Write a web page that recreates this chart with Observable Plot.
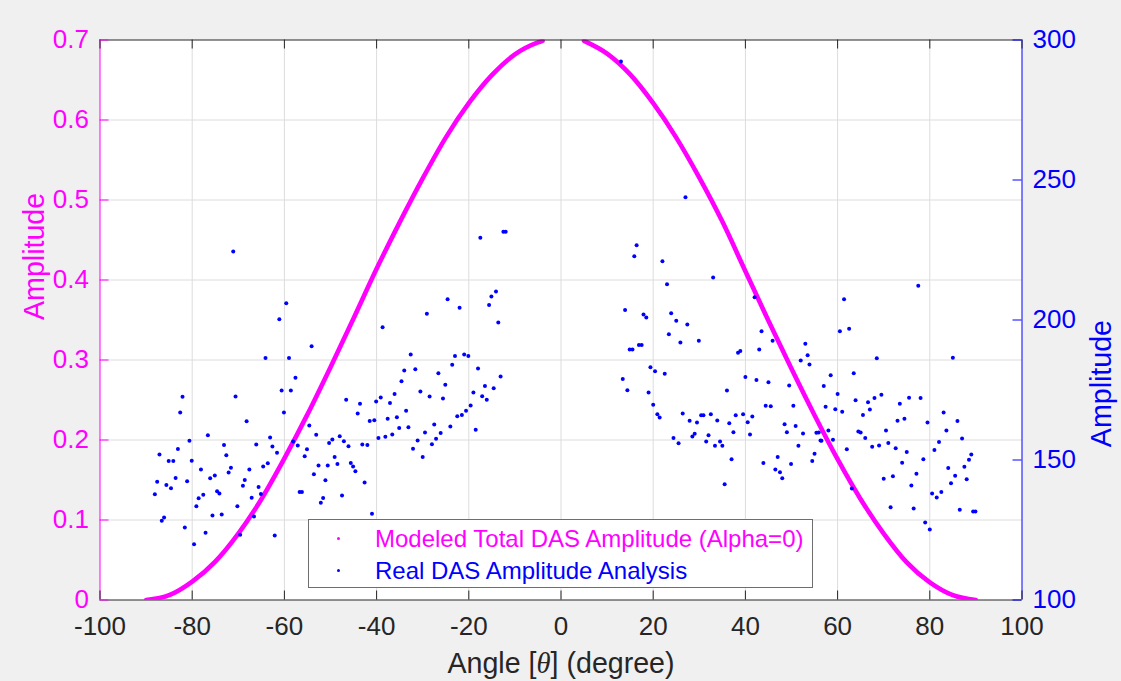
<!DOCTYPE html>
<html>
<head>
<meta charset="utf-8">
<script src="https://cdn.jsdelivr.net/npm/d3@7"></script>
<script src="https://cdn.jsdelivr.net/npm/@observablehq/plot@0.6"></script>
<style>
html, body { margin: 0; padding: 0; background: #f0f0f0; }
#wrap { position: relative; width: 1121px; height: 681px; overflow: hidden; background: #f0f0f0; }
#legend { position: absolute; left: 308px; top: 519px; width: 503px; height: 67px; background: #ffffff; border: 1px solid #6e6e6e; font-family: "Liberation Sans", Arial, sans-serif; font-size: 24px; }
.row { position: absolute; left: 66px; line-height: 27px; white-space: nowrap; }
.mk { position: absolute; width: 3px; height: 3px; border-radius: 50%; }
</style>
</head>
<body>
<div id="wrap"></div>
<script>
// ---------------- data ----------------
const xTicks = [-100, -80, -60, -40, -20, 0, 20, 40, 60, 80, 100];
const xGrid = [-80, -60, -40, -20, 0, 20, 40, 60, 80];
const leftTicks = [0, 0.1, 0.2, 0.3, 0.4, 0.5, 0.6, 0.7];
const leftGrid = [0.1, 0.2, 0.3, 0.4, 0.5, 0.6];
const rightTicks = [100, 150, 200, 250, 300];
const rightMin = 100, rightMax = 300, leftMax = 0.7;

const xLabelParts = ["Angle [", "θ", "] (degree)"];
const leftLabel = "Amplitude";
const rightLabel = "Amplitude";
const seriesNames = ["Modeled Total DAS Amplitude (Alpha=0)", "Real DAS Amplitude Analysis"];

// Modeled curve (left axis); it leaves the axes at the top near 0 degrees
const modelAngleLeft = [-90, -85, -80, -75, -70, -65, -60, -55, -50, -45, -40, -35, -30, -25, -20, -15, -10, -5, -4];
const modelAmpLeft   = [0.000, 0.006, 0.023, 0.048, 0.083, 0.126, 0.177, 0.232, 0.291, 0.352, 0.414, 0.472, 0.527, 0.578, 0.621, 0.656, 0.682, 0.697, 0.699];
const modelAngleRight = [5, 10, 15, 20, 25, 30, 35, 40, 45, 50, 55, 60, 65, 70, 75, 80, 85, 90];
const modelAmpRight   = [0.699, 0.683, 0.657, 0.621, 0.578, 0.528, 0.473, 0.411, 0.349, 0.289, 0.231, 0.176, 0.126, 0.083, 0.047, 0.022, 0.006, 0.000];

// Real DAS amplitude (right axis)
const realAngle = [
-71.1,-59.6,-61.1,-54.1,-64.1,-59.0,-57.6,-60.6,-58.6,-82.1,-70.6,-82.6,-60.1,-68.2,-54.6,-76.6,-53.1,-80.6,-63.1,-58.1,
-50.3,-73.1,-66.1,-62.6,-57.1,-87.1,-83.1,-55.1,-61.6,-72.6,-55.6,-85.1,-84.1,-80.1,-63.6,-64.6,-52.6,-50.6,-71.6,-78.1,
-67.6,-72.1,-53.6,-75.1,-83.6,-76.1,-68.6,-51.1,-87.6,-81.1,-85.6,-69.0,-65.6,-84.6,-74.6,-74.1,-56.7,-56.2,-88.1,-65.1,
-77.6,-78.6,-67.1,-51.6,-52.1,-79.1,-70.2,-75.6,-73.6,-66.6,-86.1,-86.6,-81.6,-77.1,-69.6,-62.1,-79.6,
-17.5,-12.5,-12.0,-14.1,-15.1,-15.6,-24.6,-22.0,-29.1,-13.6,-38.7,-32.6,-23.0,-21.0,-20.1,-23.6,-31.6,-34.0,-18.0,-26.6,
-34.6,-13.1,-25.1,-16.5,-14.6,-30.5,-36.1,-19.0,-17.1,-28.5,-25.6,-16.1,-39.1,-46.6,-40.1,-43.6,-37.1,-19.6,-33.6,-20.6,
-44.1,-21.5,-22.5,-35.6,-37.6,-41.5,-40.5,-33.1,-35.1,-24.0,-27.5,-18.5,-29.5,-26.1,-36.6,-38.1,-39.6,-48.0,-49.6,-47.1,
-31.1,-27.1,-46.1,-43.1,-42.0,-28.0,-32.1,-49.1,-30.0,-48.5,-45.6,-45.1,-44.6,-42.6,-47.5,-41.0,
13.0,27.0,16.4,15.9,22.0,23.0,33.0,13.9,17.9,18.5,23.9,25.0,27.4,23.4,14.9,15.5,16.9,17.5,25.9,29.9,
42.0,43.5,45.9,43.0,38.4,38.9,53.0,53.5,52.0,53.9,19.4,20.4,22.5,13.4,14.4,19.0,40.0,42.4,45.0,36.0,
49.5,20.0,44.4,45.5,50.4,20.9,21.4,26.4,27.9,29.5,30.4,30.9,32.5,33.9,36.5,37.9,39.5,40.5,41.5,48.5,
50.9,49.0,52.5,55.4,55.9,24.4,25.5,28.5,29.0,32.0,31.5,34.5,35.0,33.4,37.4,41.0,51.5,37.0,47.0,43.9,
49.9,55.0,54.5,46.5,47.5,48.0,35.5,56.3,
77.5,61.4,60.5,62.5,68.5,85.0,58.5,63.5,57.0,60.0,63.9,66.6,68.0,69.5,75.5,78.0,73.5,57.4,59.5,61.0,
67.0,65.5,83.0,73.0,74.5,79.5,86.0,58.0,64.5,65.0,70.5,83.6,56.5,59.0,66.0,71.0,67.5,69.0,72.6,82.0,
87.0,62.0,75.0,81.0,89.0,88.5,74.0,78.6,84.0,87.5,77.1,85.5,70.0,72.0,88.0,84.6,76.0,63.1,82.5,80.5,
81.5,71.5,76.5,86.5,89.4,89.9,79.0,80.0
];
const realAmp = [
224.5,206.0,200.3,190.6,186.4,186.4,179.4,174.8,174.8,172.6,172.7,167.0,167.0,163.8,162.3,158.8,159.0,156.9,158.0,156.6,
156.1,155.4,155.5,154.8,155.2,152.0,153.9,153.8,152.6,151.7,151.3,149.6,149.6,149.7,148.8,147.7,148.0,148.0,147.2,146.6,
146.6,145.5,144.9,144.5,143.6,143.5,142.9,142.8,142.2,142.4,141.1,140.8,140.4,139.9,138.8,138.0,138.6,138.6,137.8,137.9,
137.6,136.3,136.5,136.4,134.7,133.5,133.5,130.2,130.5,129.8,129.5,128.3,125.9,124.0,123.3,123.0,119.9,
229.4,231.5,231.5,210.2,208.4,205.4,207.4,204.4,202.2,199.1,197.4,187.7,187.1,187.7,187.1,184.0,182.4,182.0,182.7,181.0,
178.1,179.8,176.9,176.4,175.6,174.5,173.6,174.1,172.8,172.7,172.0,171.5,172.3,171.5,170.9,170.1,170.4,169.5,167.6,167.6,
166.6,166.1,165.6,165.3,164.7,163.9,164.2,161.7,161.4,162.0,162.7,160.8,159.8,159.6,159.1,158.3,157.9,158.5,157.3,156.7,
157.0,157.6,154.9,155.5,155.4,155.6,154.0,151.1,151.1,148.6,148.9,147.7,146.0,142.0,137.3,130.8,
292.3,243.8,226.7,222.8,221.0,212.8,215.2,203.6,202.0,200.9,202.4,199.7,198.4,194.9,189.5,189.5,191.1,191.1,192.0,192.6,
208.1,196.0,192.6,189.5,188.3,188.9,191.5,187.4,185.5,184.1,183.1,181.7,180.8,178.9,174.9,174.1,179.6,178.6,177.8,174.8,
176.6,169.7,169.4,169.2,169.4,166.3,165.2,166.6,164.0,163.4,166.0,166.0,166.3,164.1,163.1,166.0,166.3,163.5,165.5,162.8,
162.1,159.9,159.5,159.7,159.8,157.9,156.0,158.4,159.4,158.8,156.6,156.6,155.1,155.1,159.9,159.1,155.1,150.3,151.1,148.9,
148.6,152.2,149.6,146.6,145.6,143.5,141.3,157.0,
212.2,207.4,196.0,196.9,186.3,186.5,180.3,181.0,176.4,173.6,171.3,170.6,172.1,173.3,172.2,172.1,170.1,169.0,168.1,167.2,
168.0,166.1,167.0,164.0,164.7,163.4,163.9,160.5,160.2,159.8,160.5,160.5,156.9,157.2,157.9,156.1,154.7,155.2,154.2,156.4,
157.7,153.8,152.9,153.6,152.0,150.1,149.0,150.3,147.1,147.6,145.1,144.4,143.3,144.2,143.1,141.7,140.9,139.8,138.6,138.0,
136.6,133.1,132.7,132.2,131.6,131.6,127.7,125.2
];

// ---------------- build ----------------
const W = 1121, H = 681;
const mL = 99.5, mR = 99.5, mT = 39.5, mB = 81.5;
const plotW = W - mL - mR, plotH = H - mT - mB;
const tickLen = 9;
const FONT = "Liberation Sans, Arial, Helvetica, sans-serif";
const toLeft = v => (v - rightMin) / (rightMax - rightMin) * leftMax;
const fromLeft = y => rightMin + y / leftMax * (rightMax - rightMin);

const modelData = [
  ...modelAngleLeft.map((a, i) => ({a, y: modelAmpLeft[i], side: "L"})),
  ...modelAngleRight.map((a, i) => ({a, y: modelAmpRight[i], side: "R"}))
];
const realData = realAngle.map((a, i) => ({a, v: realAmp[i]}));
const xLabel = xLabelParts.join("");

const chart = Plot.plot({
  width: W, height: H,
  marginLeft: mL, marginRight: mR, marginTop: mT, marginBottom: mB,
  x: {domain: [-100, 100]},
  y: {domain: [0, leftMax]},
  style: {background: "transparent", fontFamily: FONT, overflow: "visible"},
  marks: [
    Plot.frame({fill: "#ffffff", stroke: null}),
    Plot.ruleX(xGrid, {x: d => d, stroke: "#dcdcdc", strokeWidth: 1}),
    Plot.ruleY(leftGrid, {y: d => d, stroke: "#dcdcdc", strokeWidth: 1}),
    Plot.line(modelData, {x: "a", y: "y", z: "side", stroke: "#ff00ff", strokeWidth: 4.6, curve: "monotone-x", strokeLinecap: "round", clip: true}),
    Plot.dot(realData, {x: "a", y: d => toLeft(d.v), r: 2, fill: "#0000ff", stroke: null}),
    // box
    Plot.ruleY([leftMax], {y: d => d, stroke: "#262626"}),
    Plot.ruleY([0], {y: d => d, stroke: "#262626"}),
    Plot.ruleX([-100], {x: d => d, stroke: "#ff00ff"}),
    Plot.ruleX([100], {x: d => d, stroke: "#0000ff"}),
    // inward ticks
    Plot.ruleX(xTicks, {x: d => d, stroke: "#262626", insetTop: plotH - tickLen}),
    Plot.ruleX(xTicks, {x: d => d, stroke: "#262626", insetBottom: plotH - tickLen}),
    Plot.ruleY(leftTicks, {y: d => d, stroke: "#ff00ff", insetRight: plotW - tickLen}),
    Plot.ruleY(rightTicks.map(toLeft), {y: d => d, stroke: "#0000ff", insetLeft: plotW - tickLen}),
    // tick labels
    Plot.axisX(xTicks, {tickSize: 0, tickPadding: 17, fontSize: 26, fill: "#262626", tickFormat: d => String(d), label: null}),
    Plot.axisY(leftTicks, {anchor: "left", tickSize: 0, tickPadding: 11, fontSize: 26, fill: "#ff00ff", tickFormat: d => d === 0 ? "0" : d.toFixed(1), label: null}),
    Plot.axisY(rightTicks.map(toLeft), {anchor: "right", tickSize: 0, tickPadding: 10.5, fontSize: 26, fill: "#0000ff", tickFormat: d => String(Math.round(fromLeft(d))), label: null}),
    // axis titles
    Plot.text([xLabel], {text: d => d, frameAnchor: "bottom", dy: 63.5, fontSize: 28.6, fill: "#262626", lineAnchor: "middle"}),
    Plot.text([leftLabel], {text: d => d, frameAnchor: "left", dx: -65, rotate: -90, fontSize: 28.6, fill: "#ff00ff", lineAnchor: "middle"}),
    Plot.text([rightLabel], {text: d => d, frameAnchor: "right", dx: 79.5, rotate: -90, fontSize: 28.6, fill: "#0000ff", lineAnchor: "middle"})
  ]
});

// italic theta in the x label
d3.select(chart).selectAll("text").filter(function() { return this.textContent === xLabel; }).each(function() {
  const t = d3.select(this);
  t.text(null);
  t.append("tspan").text(xLabelParts[0]);
  t.append("tspan").text(xLabelParts[1]).attr("font-style", "italic").attr("font-family", "Liberation Serif, Times New Roman, serif");
  t.append("tspan").text(xLabelParts[2]);
});

const wrap = document.getElementById("wrap");
wrap.appendChild(chart);

// legend
const legend = document.createElement("div");
legend.id = "legend";
const colors = ["#ff00ff", "#0000ff"];
const rowTops = [5, 37];
seriesNames.forEach((name, i) => {
  const mk = document.createElement("div");
  mk.className = "mk";
  mk.style.background = colors[i];
  mk.style.left = "28px";
  mk.style.top = (rowTops[i] + 12) + "px";
  legend.appendChild(mk);
  const row = document.createElement("div");
  row.className = "row";
  row.style.top = rowTops[i] + "px";
  row.style.color = colors[i];
  row.textContent = name;
  legend.appendChild(row);
});
wrap.appendChild(legend);
</script>
</body>
</html>
